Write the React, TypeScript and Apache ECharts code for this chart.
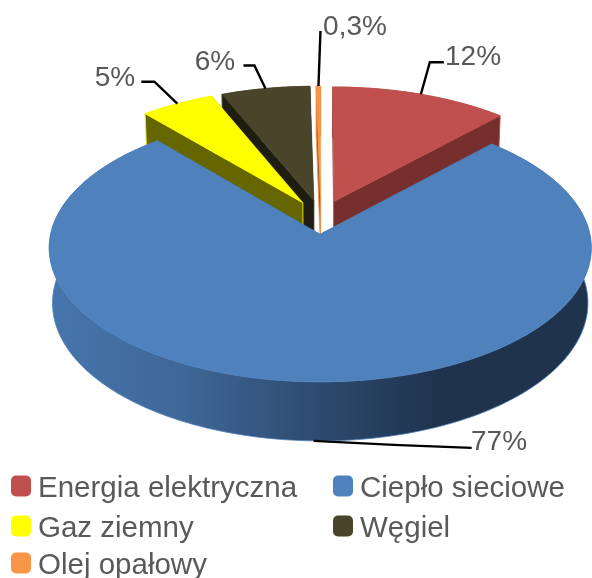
import React, { useEffect, useRef } from "react";
import * as echarts from "echarts";

const categories = ["Energia elektryczna", "Ciepło sieciowe", "Gaz ziemny", "Węgiel", "Olej opałowy"];
const values = [12, 77, 5, 6, 0.3];
const valueLabels = ["12%", "77%", "5%", "6%", "0,3%"];
const topColors = ["#c0504d", "#4f81bd", "#ffff00", "#4a452a", "#f79646"];
const wallColors = ["#772f2d", "#2d4a6e", "#666600", "#1f1c10", "#9a5a24"];
const legendSlots = [[11, 476], [333, 476], [11, 516], [333, 516], [11, 553]];
// leader line: elbow and end offsets from the anchor, then label centre
const leaders = [
  [[9, -32], [23, -32], [473, 55]],
  [[80, 4], [158, 7], [499, 440]],
  [[-23, -22], [-36, -22], [115, 76]],
  [[-11, -23], [-22, -23], [215, 60]],
  [[2, -55], [2, -55], [355, 25]],
];

const FONT = "'Liberation Sans', Arial, sans-serif";
const CX = 321, CY = 217, R = 266, EXPLODE = 35, TILT = 0.485, PERSP = 0.00038, DEPTH = 55, PERSP_Z = 0.012;
const total = values.reduce((a, b) => a + b, 0);

function project(x: number, y: number, z: number): number[] {
  const w = 1 + PERSP * y + PERSP_Z * z;
  return [CX + x / w, CY + (-TILT * y + DEPTH * z) / w];
}

const starts: number[] = [];
values.reduce((acc, v, i) => {
  starts[i] = acc;
  return acc + v;
}, 0);
const toRad = (v: number) => (v / total) * Math.PI * 2;

function sliceGeometry(i: number) {
  const a0 = toRad(starts[i]);
  const a1 = toRad(starts[i] + values[i]);
  const mid = (a0 + a1) / 2;
  const ox = EXPLODE * Math.sin(mid);
  const oy = EXPLODE * Math.cos(mid);
  const rim = (a: number, z: number) => project(ox + R * Math.sin(a), oy + R * Math.cos(a), z);
  const n = Math.max(2, Math.ceil((a1 - a0) / (Math.PI / 180)));
  const angles: number[] = [];
  for (let k = 0; k <= n; k++) angles.push(a0 + ((a1 - a0) * k) / n);
  return { a0, a1, mid, ox, oy, rim, angles };
}

function renderSlice(i: number) {
  const { a0, a1, mid, ox, oy, rim, angles } = sliceGeometry(i);
  const apexT = project(ox, oy, 0);
  const apexB = project(ox, oy, 1);
  const isFront = Math.cos(mid) < 0;
  const wallFill: any = isFront
    ? new echarts.graphic.LinearGradient(48, 0, 592, 0, [
        { offset: 0, color: "#4675ad" },
        { offset: 0.25, color: "#3f6797" },
        { offset: 0.5, color: "#2d4a6e" },
        { offset: 0.72, color: "#1f334d" },
        { offset: 1, color: "#1f334d" },
      ], true)
    : wallColors[i];
  const children: any[] = [];
  const wall = (pts: number[][], stroke: boolean) =>
    children.push({
      type: "polygon",
      shape: { points: pts },
      style: stroke ? { fill: wallFill, stroke: topColors[i], lineWidth: 0.8 } : { fill: wallFill },
    });
  const radial0 = [apexT, rim(a0, 0), rim(a0, 1), apexB];
  const radial1 = [apexT, rim(a1, 0), rim(a1, 1), apexB];
  // the outer wall and the cut face that looks away go first, the cut face that looks to the viewer last
  wall([...angles.map((a) => rim(a, 0)), ...angles.slice().reverse().map((a) => rim(a, 1))], true);
  if (Math.sin(mid) < 0) {
    wall(radial1, false);
    wall(radial0, true);
  } else {
    wall(radial0, false);
    wall(radial1, true);
  }
  children.push({
    type: "polygon",
    shape: { points: [apexT, ...angles.map((a) => rim(a, 0))] },
    style: { fill: topColors[i], stroke: topColors[i], lineWidth: 0.5 },
  });
  const anchor = rim(mid, isFront ? 1 : 0);
  const [elbow, end, text] = leaders[i];
  children.push({
    type: "polyline",
    shape: {
      points: [anchor, [anchor[0] + elbow[0], anchor[1] + elbow[1]], [anchor[0] + end[0], anchor[1] + end[1]]],
    },
    style: { fill: "none", stroke: "#000000", lineWidth: 2.4 },
  });
  children.push({
    type: "text",
    x: text[0],
    y: text[1],
    style: {
      text: valueLabels[i],
      fill: "#595959",
      font: `28px ${FONT}`,
      align: "center",
      verticalAlign: "middle",
    },
  });
  return { type: "group", children };
}

export default function App() {
  const ref = useRef<HTMLDivElement>(null);
  useEffect(() => {
    document.body.style.margin = "0";
    const chart = echarts.init(ref.current!, null, { renderer: "svg" });
    const order = values
      .map((_, i) => i)
      .sort((p, q) => Math.cos(sliceGeometry(q).mid) - Math.cos(sliceGeometry(p).mid));
    chart.setOption({
      animation: false,
      backgroundColor: "#ffffff",
      legend: categories.map((name, i) => ({
        left: legendSlots[i][0],
        top: legendSlots[i][1] - 5,
        padding: 0,
        itemWidth: 20,
        itemHeight: 21,
        itemGap: 0,
        selectedMode: false,
        icon: "roundRect",
        textStyle: { fontFamily: FONT, fontSize: 29.5, lineHeight: 21, color: "#595959", padding: [0, 0, 0, 2] },
        data: [{ name, itemStyle: { color: topColors[i] } }],
      })),
      series: order.map((i) => ({
        type: "custom",
        name: categories[i],
        coordinateSystem: "none",
        silent: true,
        itemStyle: { color: topColors[i] },
        data: [[values[i]]],
        renderItem: () => renderSlice(i),
      })),
    });
    return () => chart.dispose();
  }, []);
  return <div ref={ref} style={{ position: "absolute", left: 0, top: 0, width: 592, height: 578, filter: "blur(0.4px)" }} />;
}
